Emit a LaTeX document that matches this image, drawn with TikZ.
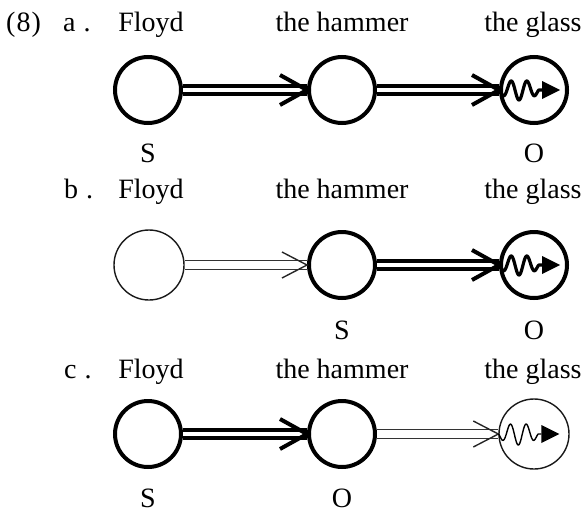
\documentclass[tikz,border=0pt]{standalone}
\usepackage{fontspec}
\setmainfont{Liberation Serif}
\usetikzlibrary{decorations.markings}
\begin{document}
\begin{tikzpicture}[x=1pt,y=1pt,
  lab/.style={font=\fontsize{28}{30}\selectfont, anchor=base, inner sep=0pt},
  labw/.style={font=\fontsize{28}{30}\selectfont, anchor=base west, inner sep=0pt},
  thickc/.style={circle, draw=black, line width=4pt, minimum size=66pt, inner sep=0pt},
  thinc/.style={circle, draw=black!90, line width=1.4pt, minimum size=70pt, inner sep=0pt},
  thickarr/.style={draw=black, line width=4pt, double=white, double distance=4.7pt,
    postaction={decorate, decoration={markings, mark=at position 1 with {
      \draw[black, line width=4pt, miter limit=10] (-27pt,15pt) -- (0pt,0pt) -- (-27pt,-15pt);}}}},
  thinarr/.style={draw=black!80, line width=1.6pt, double=white, double distance=7.5pt,
    postaction={decorate, decoration={markings, mark=at position 1 with {
      \draw[black!85, line width=1.4pt, miter limit=10] (-25pt,13pt) -- (0pt,0pt) -- (-25pt,-13pt);}}}},
  wavethick/.style={line width=3.2pt, line join=round},
  wavethin/.style={line width=1.4pt, line join=round},
]
\useasboundingbox (0,0) rectangle (585,-514);

% ---------- row a ----------
\node[labw] (n8) at (6,-31) {(\kern1pt8\kern1pt)};
\node[labw] (la) at (63,-31) {a\hspace{8pt}.};
\node[lab] (fa) at (151,-31) {Floyd};
\node[lab] (ha) at (342,-31) {the hammer};
\node[lab] (gla) at (533,-31) {the glass};

\node[thickc] (a1) at (148,-90) {};
\node[thickc] (a2) at (342,-90) {};
\node[thickc] (a3) at (534,-90) {};
\draw[thickarr] (a1) -- (a2);
\draw[thickarr] (a2) -- (a3);
\draw[wavethick, shift={(a3.west)}]
  plot[domain=0:40, samples=120, smooth] (\x, {-10*sqrt(abs(sin(180*\x/40)))*sin(360*\x/16)}) -- (43,0);
\fill[shift={(a3.west)}] (43,9) -- (61,0) -- (43,-9) -- cycle;

\node[lab] (sa) at (148,-162) {S};
\node[lab] (oa) at (534,-162) {O};

% ---------- row b ----------
\node[labw] (lb) at (64,-198) {b\hspace{8pt}.};
\node[lab] (fb) at (151,-198) {Floyd};
\node[lab] (hb) at (342,-198) {the hammer};
\node[lab] (glb) at (533,-198) {the glass};

\node[thinc] (b1) at (149,-265) {};
\node[thickc] (b2) at (342,-265) {};
\node[thickc] (b3) at (534,-265) {};
\draw[thinarr] (b1) -- (b2);
\draw[thickarr] (b2) -- (b3);
\draw[wavethick, shift={(b3.west)}]
  plot[domain=0:40, samples=120, smooth] (\x, {-10*sqrt(abs(sin(180*\x/40)))*sin(360*\x/16)}) -- (43,0);
\fill[shift={(b3.west)}] (43,9) -- (61,0) -- (43,-9) -- cycle;

\node[lab] (sb) at (342,-339) {S};
\node[lab] (ob) at (534,-339) {O};

% ---------- row c ----------
\node[labw] (lc) at (64,-378) {c\hspace{8pt}.};
\node[lab] (fc) at (151,-378) {Floyd};
\node[lab] (hc) at (342,-378) {the hammer};
\node[lab] (glc) at (533,-378) {the glass};

\node[thickc] (c1) at (148,-434) {};
\node[thickc] (c2) at (342,-434) {};
\node[thinc] (c3) at (534,-434) {};
\draw[thickarr] (c1) -- (c2);
\draw[thinarr] (c2) -- (c3);
\draw[wavethin, shift={(c3.west)}]
  plot[domain=0:40, samples=120, smooth] (\x, {-11*sqrt(abs(sin(180*\x/40)))*sin(360*\x/16)}) -- (43,0);
\fill[shift={(c3.west)}] (43,9) -- (61,0) -- (43,-9) -- cycle;

\node[lab] (sc) at (148,-507) {S};
\node[lab] (oc) at (342,-507) {O};
\end{tikzpicture}
\end{document}
